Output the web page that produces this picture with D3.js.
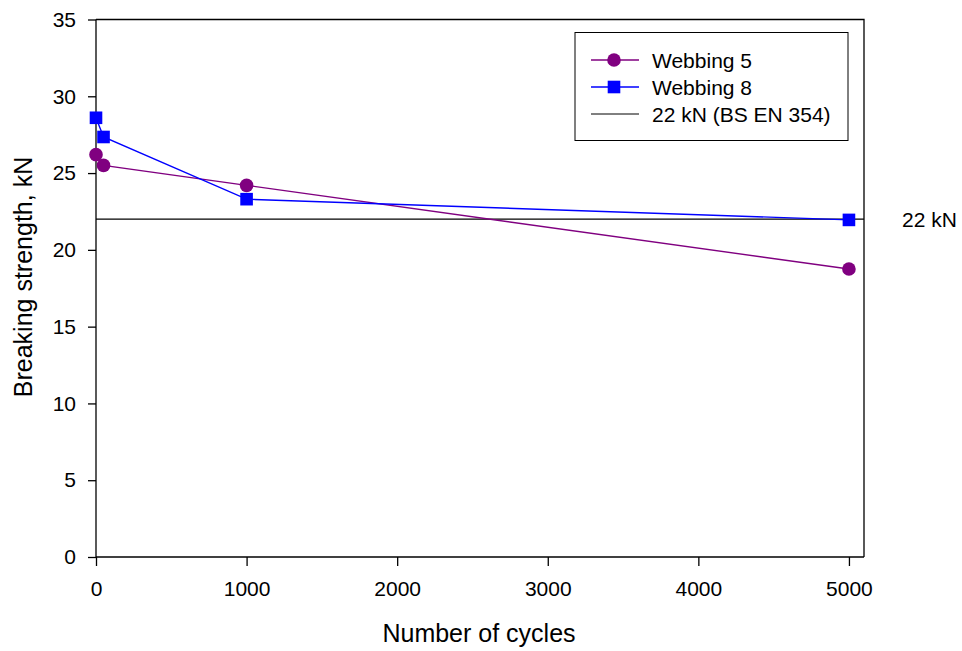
<!doctype html>
<html lang="en">
<head>
  <meta charset="UTF-8">
  <title>Breaking strength vs cycles</title>
  <script src="https://cdn.jsdelivr.net/npm/d3@7"></script>
  <style>
    body { margin: 0; background: #fff; }
    text { font-family: "Liberation Sans", Arial, sans-serif; fill: #000; }
    .axis path, .axis line { stroke: #000; stroke-width: 1.3px; }
    .axis text { font-size: 21px; font-family: "Liberation Sans", Arial, sans-serif; }
  </style>
</head>
<body>
<script>
  var cycles = [0, 50, 1000, 5000];
  var webbing5 = [26.2, 25.5, 24.2, 18.75];
  var webbing8 = [28.6, 27.35, 23.3, 21.95];
  var standardKN = 22;
  var xTicks = [0, 1000, 2000, 3000, 4000, 5000];
  var yTicks = [0, 5, 10, 15, 20, 25, 30, 35];

  var margin = { top: 19.5, right: 98, bottom: 94, left: 96 },
    width = 962 - margin.left - margin.right,
    height = 651 - margin.top - margin.bottom;

  var svg = d3.select("body").append("svg")
    .attr("width", 962)
    .attr("height", 651);

  var g = svg.append("g")
    .attr("transform", "translate(" + margin.left + "," + margin.top + ")");

  var x = d3.scaleLinear().domain([0, 5100]).range([0, width]);
  var y = d3.scaleLinear().domain([0, 35]).range([height, 0]);

  // frame (top and right edges)
  g.append("path")
    .attr("d", "M0,0H" + width + "V" + height)
    .attr("fill", "none")
    .attr("stroke", "#000")
    .attr("stroke-width", 1.3);

  g.append("g")
    .attr("class", "axis")
    .attr("transform", "translate(0," + height + ")")
    .call(d3.axisBottom(x).tickValues(xTicks).tickFormat(d3.format("d"))
      .tickSize(9).tickSizeOuter(0).tickPadding(15))
    .call(function(a) { a.select(".domain").attr("d", "M0,0H" + width); });

  g.append("g")
    .attr("class", "axis")
    .call(d3.axisLeft(y).tickValues(yTicks).tickSize(8).tickSizeOuter(0).tickPadding(12))
    .call(function(a) { a.select(".domain").attr("d", "M0," + height + "V0"); });

  // 22 kN reference line
  g.append("line")
    .attr("x1", 0).attr("x2", width)
    .attr("y1", y(standardKN)).attr("y2", y(standardKN))
    .attr("stroke", "#000").attr("stroke-width", 1.2);

  g.append("text")
    .attr("x", width + 38)
    .attr("y", y(standardKN) + 7.5)
    .attr("font-size", "21px")
    .text("22 kN");

  var line = d3.line()
    .x(function(d) { return x(d[0]); })
    .y(function(d) { return y(d[1]); });

  var s5 = d3.zip(cycles, webbing5);
  var s8 = d3.zip(cycles, webbing8);

  g.append("path").datum(s5)
    .attr("d", line).attr("fill", "none")
    .attr("stroke", "#800080").attr("stroke-width", 1.4);

  g.append("path").datum(s8)
    .attr("d", line).attr("fill", "none")
    .attr("stroke", "#0000ff").attr("stroke-width", 1.4);

  g.selectAll("circle.w5").data(s5).enter().append("circle")
    .attr("class", "w5")
    .attr("cx", function(d) { return x(d[0]); })
    .attr("cy", function(d) { return y(d[1]); })
    .attr("r", 6.8)
    .attr("fill", "#800080");

  g.selectAll("rect.w8").data(s8).enter().append("rect")
    .attr("class", "w8")
    .attr("x", function(d) { return x(d[0]) - 6.3; })
    .attr("y", function(d) { return y(d[1]) - 6.3; })
    .attr("width", 12.6).attr("height", 12.6)
    .attr("fill", "#0000ff");

  // legend
  var lg = svg.append("g").attr("transform", "translate(575,32.5)");
  lg.append("rect")
    .attr("width", 273).attr("height", 108)
    .attr("fill", "#fff").attr("stroke", "#000").attr("stroke-width", 1);

  var items = [
    { name: "Webbing 5", color: "#800080", mark: "circle" },
    { name: "Webbing 8", color: "#0000ff", mark: "square" },
    { name: "22 kN (BS EN 354)", color: "#000", mark: "none" }
  ];

  items.forEach(function(it, i) {
    var yy = 27.5 + i * 27;
    lg.append("line")
      .attr("x1", 16).attr("x2", 64)
      .attr("y1", yy).attr("y2", yy)
      .attr("stroke", it.color).attr("stroke-width", it.mark === "none" ? 1 : 1.4);
    if (it.mark === "circle") {
      lg.append("circle").attr("cx", 39).attr("cy", yy).attr("r", 6.8).attr("fill", it.color);
    } else if (it.mark === "square") {
      lg.append("rect").attr("x", 39 - 6.3).attr("y", yy - 6.3)
        .attr("width", 12.6).attr("height", 12.6).attr("fill", it.color);
    }
    lg.append("text")
      .attr("x", 77).attr("y", yy + 7.5)
      .attr("font-size", "21px")
      .text(it.name);
  });

  // axis titles
  svg.append("text")
    .attr("x", 479)
    .attr("y", 642)
    .attr("text-anchor", "middle")
    .attr("font-size", "25px")
    .text("Number of cycles");

  svg.append("text")
    .attr("transform", "translate(32,277) rotate(-90)")
    .attr("text-anchor", "middle")
    .attr("font-size", "25px")
    .text("Breaking strength, kN");
</script>
</body>
</html>
